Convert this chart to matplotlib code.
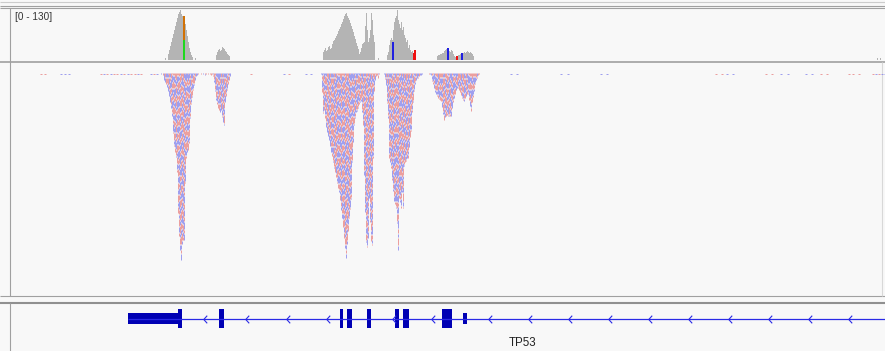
# IGV-style view of TP53: coverage track, squished reads and the gene model
import matplotlib.pyplot as plt
from matplotlib.collections import LineCollection
from matplotlib.path import Path

W, H = 885, 351  # screen columns / rows

# ---- coverage (read counts, scale 0-130), one value per screen column ----
cov1_start = 165
cov1 = [5, 0, 0, 16, 26, 36, 47, 57, 68, 78, 88, 99, 109, 120, 125, 130, 120, 114,
        114, 104, 94, 78, 62, 47, 31, 21, 13, 8, 0, 0, 5]
cov2_start = 216
cov2 = [13, 21, 26, 29, 23, 26, 34, 31, 29, 23, 21, 16, 13, 10]
cov3_start = 323
cov3 = [21, 26, 31, 23, 26, 34, 36, 29, 31, 42, 49, 52, 57, 62, 68, 75, 81, 86, 94, 99,
        107, 114, 120, 122, 114, 109, 104, 96, 88, 81, 73, 62, 55, 44, 36, 29, 16, 21,
        31, 42, 44, 47, 88, 122, 78, 47, 57, 78, 122, 104, 65, 47, 0, 0, 0, 5]
cov4_start = 387
cov4 = [13, 21, 39, 52, 57, 52, 78, 99, 109, 114, 130, 104, 94, 83, 99, 78, 86, 65, 57,
        47, 52, 31, 39, 26, 21, 23, 18, 26, 10]
cov5_start = 437
cov5 = [10, 13, 13, 16, 16, 18, 18, 23, 26, 29, 31, 26, 23, 21, 26, 23, 16, 10, 8, 10,
        8, 13, 13, 16, 18, 16, 18, 21, 18, 21, 23, 21, 18, 21, 18, 16, 10]
cov6_start = 877
cov6 = [4, 0, 0, 4]

# mismatch columns in coverage: base of the lower part, its fraction, base of the rest
mm_x = [183, 392, 413, 414, 447, 456, 461]
mm_base = ['A', 'C', 'T', 'T', 'C', 'T', 'C']
mm_frac = [0.45, 0.9, 1.0, 1.0, 1.0, 1.0, 1.0]
mm_rest = ['G', None, None, None, None, None, None]
base_colors = {'A': '#1ed81e', 'C': '#2020e0', 'G': '#d17105', 'T': '#ee1010'}

# ---- read pile depth (rows below the first row), one value per column ----
rd1_start = 160
rd1 = [2, 0, 3, 8, 10, 12, 15, 19, 24, 30, 36, 44, 60, 74, 80, 84, 100, 141, 164, 178,
       188, 172, 168, 168, 110, 86, 80, 78, 71, 45, 31, 24, 18, 12, 8, 4, 3, 2]
rd2_start = 200
rd2 = [2, 0, 2, 0, 2, 2, 0, 2, 0, 2, 3, 2, 4, 10, 18, 28, 32, 36, 38, 40,
       38, 44, 50, 53, 30, 24, 18, 12, 8, 4]
rd3_start = 320
rd3 = [2, 20, 40, 38, 46, 55, 60, 64, 68, 74, 80, 84, 90, 96, 100, 105, 110, 116, 120, 128,
       138, 146, 155, 166, 176, 186, 172, 159, 146, 136, 126, 90, 70, 53, 45, 40, 38, 36, 32, 30,
       29, 40, 53, 103, 140, 169, 174, 166, 126, 150, 169, 172, 86, 19, 8, 4, 3, 6, 2]
rd4_start = 383
rd4 = [2, 6, 13, 30, 46, 86, 90, 96, 108, 119, 129, 132, 136, 150, 178, 126, 130, 136, 120, 136,
       93, 90, 88, 86, 86, 75, 65, 59, 40, 30, 19, 12, 8, 6, 6, 4, 3, 3, 2]
rd5_start = 428
rd5 = [2, 2, 3, 8, 12, 16, 20, 22, 24, 26, 27, 28, 29, 35, 42, 48, 45, 44, 43, 43,
       44, 44, 44, 36, 30, 26, 22, 18, 16, 16, 18, 20, 23, 25, 27, 29, 26, 24, 22, 22,
       28, 34, 39, 30, 25, 19, 12, 8, 5, 3, 2]

# lone reads in the first row and their strand
sparse_x = [40, 44, 60, 64, 68, 100, 103, 106, 110, 113, 116, 120, 123, 127, 130, 134, 137,
            140, 150, 153, 156, 250, 283, 288, 305, 310, 510, 516, 560, 567, 600, 606,
            715, 721, 726, 732, 765, 771, 780, 787, 805, 811, 820, 826, 848, 852, 858,
            872, 875, 878, 881, 884]
sparse_strand = '++---+-+-++-+-++-+-+-+-+--------++--++----++++++-+--+-'[:len(sparse_x)]

# ---- gene model (TP53, minus strand) ----
gene_start, gene_end = 128, 885
utr_start = [128, 463]
utr_end = [178, 467]
exon_start = [178, 219, 340, 347, 367, 395, 403, 442]
exon_end = [182, 224, 343, 352, 371, 399, 409, 452]
arrow_x = [205, 247, 288, 328, 394, 433, 490, 530, 570, 610, 650, 690, 730, 770, 810, 850]
gene_name = 'TP53'

bg = '#f8f8f8'
frame = '#a0a0a0'
fig = plt.figure(figsize=(W / 100, H / 100), dpi=100, facecolor=bg)


def panel(top, bottom):
    ax = fig.add_axes([0, 1 - bottom / H, 1, (bottom - top) / H])
    ax.set_xlim(0, W)
    ax.axis('off')
    return ax


# frame lines, in screen pixels
ax_bg = panel(0, H)
ax_bg.set_ylim(H, 0)
ax_bg.hlines([2], 0, W, color='#cccccc', lw=0.8)
ax_bg.hlines([6, 8], 0, W, color=frame, lw=0.8)
ax_bg.hlines([61.5], 0, W, color=frame, lw=1.2)
ax_bg.hlines([296], 0, W, color=frame, lw=0.8)
ax_bg.hlines([302.5], 0, W, color='#909090', lw=1.5)
ax_bg.vlines([9.5], 8, 296, color=frame, lw=0.8)
ax_bg.vlines([9.5], 303, H, color=frame, lw=0.8)
ax_bg.vlines([881.5], 62, 296, color='#d8d8d8', lw=0.8)
ax_bg.text(15, 12, '[0 - 130]', fontsize=7.2, family='Liberation Sans',
           color='#333333', va='top', ha='left')

# coverage
ax_cov = panel(8, 61)
ax_cov.set_ylim(-2.6, 135.2)
for start, vals in [(cov1_start, cov1), (cov2_start, cov2), (cov3_start, cov3),
                    (cov4_start, cov4), (cov5_start, cov5), (cov6_start, cov6)]:
    xs = list(range(start, start + len(vals)))
    ax_cov.bar(xs, vals, width=1.0, align='edge', color='#b4b4b4', linewidth=0)
all_cov = {}
for start, vals in [(cov1_start, cov1), (cov2_start, cov2), (cov3_start, cov3),
                    (cov4_start, cov4), (cov5_start, cov5)]:
    for i, v in enumerate(vals):
        all_cov[start + i] = v
for x, b, f, r in zip(mm_x, mm_base, mm_frac, mm_rest):
    h = all_cov[x]
    ax_cov.bar([x], [h * f], width=1.6, align='edge', color=base_colors[b], linewidth=0)
    if r is not None:
        ax_cov.bar([x], [h * (1 - f)], bottom=[h * f], width=1.6, align='edge',
                   color=base_colors[r], linewidth=0)

# reads: thin vertical streaks, alternating strand colour in pieces
ax_rd = panel(62, 296)
ax_rd.set_ylim(223, -11)
pink, blue = '#e67c7c', '#7c7cea'
piece_len = [5, 8, 4, 7, 6, 9, 5, 4, 8, 6, 7]
segs, cols = [], []
for start, vals in [(rd1_start, rd1), (rd2_start, rd2), (rd3_start, rd3),
                    (rd4_start, rd4), (rd5_start, rd5)]:
    for i, d in enumerate(vals):
        col = start + i
        x = col + 0.5
        k = (col * 3) % len(piece_len)
        y = -((col * 7) % 5)          # stagger piece boundaries between columns
        flip = (col * 5) % 3 == 0
        while y < d:
            y1 = max(y, 0)
            y2 = min(y + piece_len[k % len(piece_len)], d)
            if y2 > y1:
                segs.append([(x, y1), (x, max(y2 - 0.6, y1 + 0.5))])
                cols.append(pink if (k % 2 == 0) != flip else blue)
            y += piece_len[k % len(piece_len)]
            k += 1
for x, s in zip(sparse_x, sparse_strand):
    segs.append([(x, 0.5), (x + 2, 0.5)])
    cols.append(pink if s == '+' else blue)
ax_rd.add_collection(LineCollection(segs, colors=cols, linewidths=0.6, alpha=0.85))

# gene track
ax_g = panel(303, H)
ax_g.set_ylim(48, 0)
yc = 15.5
line_col, exon_col = '#2a2ae6', '#0000b4'
ax_g.hlines([yc], gene_start, gene_end, color=line_col, lw=0.9)
chevron = Path([(0.45, 1), (-0.45, 0), (0.45, -1)], [Path.MOVETO, Path.LINETO, Path.LINETO])
ax_g.plot(arrow_x, [yc] * len(arrow_x), linestyle='none', marker=chevron,
          markersize=5.5, markerfacecolor='none', markeredgecolor=line_col,
          markeredgewidth=0.8)
ax_g.bar(utr_start, 11, bottom=yc - 5.5,
         width=[e - s for s, e in zip(utr_start, utr_end)], align='edge',
         color=exon_col, linewidth=0)
ax_g.bar(exon_start, 19, bottom=yc - 9.5,
         width=[e - s for s, e in zip(exon_start, exon_end)], align='edge',
         color=exon_col, linewidth=0)
ax_g.text(523, 40, gene_name, fontsize=8.3, family='Liberation Sans',
          color='#222222', ha='center', va='center')

fig.savefig('out.png', dpi=100, facecolor=bg)
